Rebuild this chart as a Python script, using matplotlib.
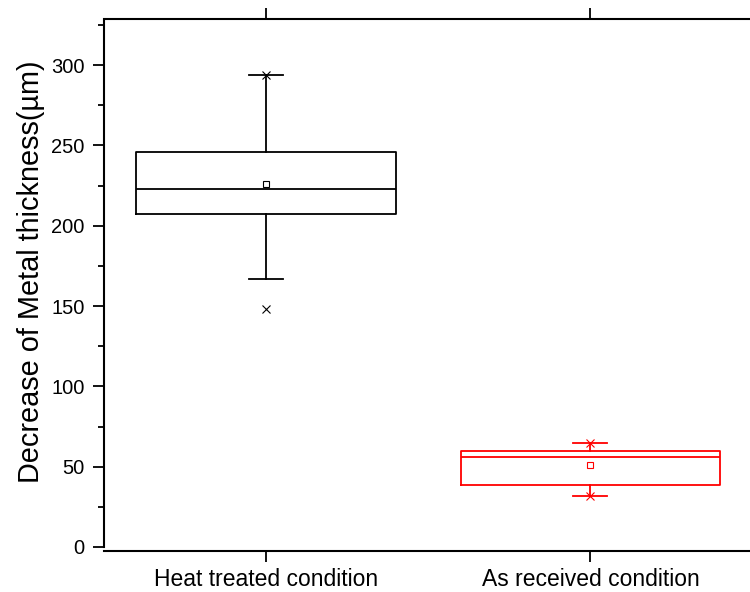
import numpy as np
import matplotlib
matplotlib.use("Agg")
import matplotlib.pyplot as plt

plt.rcParams['font.family'] = ['Liberation Sans', 'DejaVu Sans']

# Box plot statistics
categories = ['Heat treated condition', 'As received condition']
q1 = [207, 38.5]
median = [223, 56]
q3 = [246, 60]
whisker_low = [167, 32]
whisker_high = [294, 65]
means = [226, 51]
data_min = [148, 32]
data_max = [294, 65]
colors = ['black', '#ff0000']

fig = plt.figure(figsize=(7.5, 5.92), dpi=100)
ax = fig.add_axes([104 / 750, 1 - 547 / 592, 648.5 / 750, 526 / 592])

positions = np.arange(1, len(categories) + 1)
for i, pos in enumerate(positions):
    stats = [{
        'med': median[i], 'q1': q1[i], 'q3': q3[i],
        'whislo': whisker_low[i], 'whishi': whisker_high[i],
        'mean': means[i], 'fliers': [],
    }]
    c = colors[i]
    ax.bxp(stats, positions=[pos], widths=0.8, showmeans=True, showfliers=False,
           manage_ticks=False,
           boxprops=dict(color=c, linewidth=1.3),
           medianprops=dict(color=c, linewidth=1.3),
           whiskerprops=dict(color=c, linewidth=1.3),
           capprops=dict(color=c, linewidth=1.3),
           capwidths=0.105,
           meanprops=dict(marker='s', markerfacecolor='none', markeredgecolor=c,
                          markersize=5, markeredgewidth=0.8))
    ax.plot([pos, pos], [data_min[i], data_max[i]], linestyle='none', marker='x',
            color=c, markersize=6, markeredgewidth=0.8)

ax.set_xlim(0.5, 2.5)
ax.set_ylim(0, 327.4)
ax.set_xticks(positions)
ax.set_xticklabels(categories)
ax.set_yticks(np.arange(0, 301, 50))
ax.set_yticks(np.arange(25, 326, 50), minor=True)
ax.tick_params(axis='y', labelsize=14.5, direction='out', length=8, width=1.3, pad=6)
ax.tick_params(axis='y', which='minor', length=4.5, width=1.3)
ax.tick_params(axis='x', labelsize=16.5, direction='out', length=8, width=1.3,
               pad=4, top=True)
ax.set_ylabel('Decrease of Metal thickness(\u00b5m)', fontsize=20.8, labelpad=4)
ax.yaxis.label.set_y(0.524)

ax.spines['right'].set_visible(False)
ax.spines['bottom'].set_position(('outward', 3))
ax.spines['top'].set_position(('outward', 1.5))
for s in ['left', 'bottom', 'top']:
    ax.spines[s].set_linewidth(1.5)

fig.savefig('out.png', dpi=100)
